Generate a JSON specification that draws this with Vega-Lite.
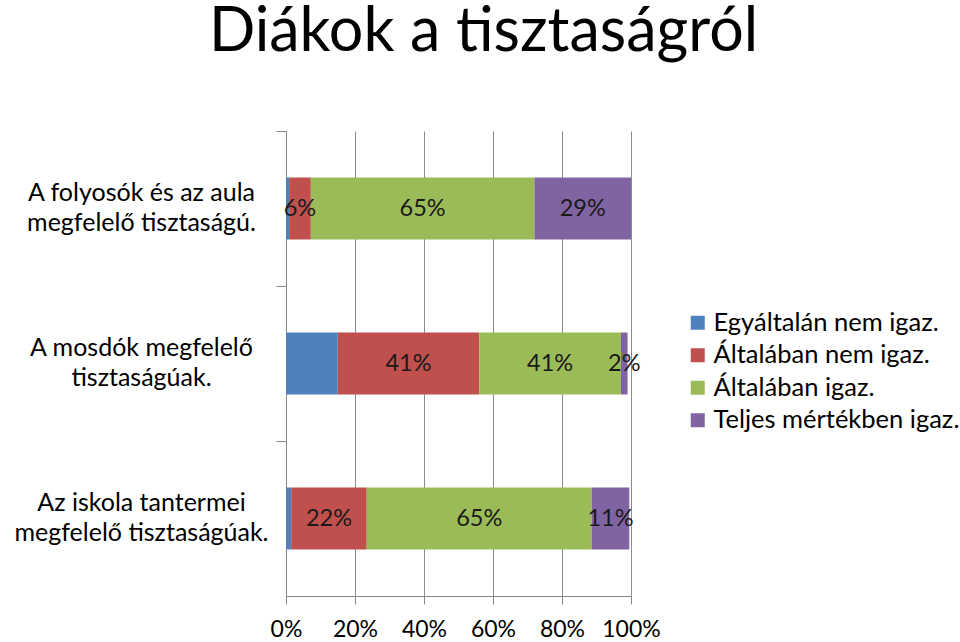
{
  "$schema": "https://vega.github.io/schema/vega-lite/v6.json",
  "autosize": {"type": "none"},
  "width": 345,
  "height": 465,
  "padding": {"left": 286, "top": 131, "right": 329, "bottom": 46},
  "background": "white",
  "config": {
    "font": "Lato",
    "view": {"stroke": null}
  },
  "title": {
    "text": "Diákok a tisztaságról",
    "fontSize": 61,
    "fontWeight": "normal",
    "font": "Lato",
    "color": "#000000",
    "anchor": "middle",
    "frame": "group",
    "dx": 25,
    "baseline": "alphabetic",
    "offset": 19
  },
  "data": {
    "values": [
      {"q": "A folyosók és az aula\nmegfelelő tisztaságú.", "k": 1, "c": "Egyáltalán nem igaz.", "v": 0.9, "label": ""},
      {"q": "A folyosók és az aula\nmegfelelő tisztaságú.", "k": 2, "c": "Általában nem igaz.", "v": 6.3, "label": "6%"},
      {"q": "A folyosók és az aula\nmegfelelő tisztaságú.", "k": 3, "c": "Általában igaz.", "v": 64.8, "label": "65%"},
      {"q": "A folyosók és az aula\nmegfelelő tisztaságú.", "k": 4, "c": "Teljes mértékben igaz.", "v": 28.0, "label": "29%"},
      {"q": "A mosdók megfelelő\ntisztaságúak.", "k": 1, "c": "Egyáltalán nem igaz.", "v": 15.0, "label": ""},
      {"q": "A mosdók megfelelő\ntisztaságúak.", "k": 2, "c": "Általában nem igaz.", "v": 41.0, "label": "41%"},
      {"q": "A mosdók megfelelő\ntisztaságúak.", "k": 3, "c": "Általában igaz.", "v": 41.1, "label": "41%"},
      {"q": "A mosdók megfelelő\ntisztaságúak.", "k": 4, "c": "Teljes mértékben igaz.", "v": 1.9, "label": "2%"},
      {"q": "Az iskola tantermei\nmegfelelő tisztaságúak.", "k": 1, "c": "Egyáltalán nem igaz.", "v": 1.5, "label": ""},
      {"q": "Az iskola tantermei\nmegfelelő tisztaságúak.", "k": 2, "c": "Általában nem igaz.", "v": 21.9, "label": "22%"},
      {"q": "Az iskola tantermei\nmegfelelő tisztaságúak.", "k": 3, "c": "Általában igaz.", "v": 65.2, "label": "65%"},
      {"q": "Az iskola tantermei\nmegfelelő tisztaságúak.", "k": 4, "c": "Teljes mértékben igaz.", "v": 10.9, "label": "11%"}
    ]
  },
  "transform": [
    {"stack": "v", "groupby": ["q"], "sort": [{"field": "k", "order": "ascending"}], "as": ["v0", "v1"]}
  ],
  "encoding": {
    "y": {
      "field": "q",
      "type": "nominal",
      "sort": null,
      "title": null,
      "scale": {"paddingInner": 0.6, "paddingOuter": 0.3},
      "axis": {
        "labelExpr": "split(datum.label, '\\n')",
        "labelFontSize": 25,
        "labelColor": "#000000",
        "labelLineHeight": 30,
        "labelAlign": "center",
        "labelBaseline": "middle",
        "labelOffset": 61.5,
        "labelPadding": 135,
        "labelLimit": 400,
        "tickBand": "center",
        "tickOffset": -77.5,
        "tickSize": 10,
        "tickColor": "#888888",
        "domainColor": "#888888",
        "grid": false
      }
    }
  },
  "layer": [
    {
      "mark": {"type": "bar"},
      "encoding": {
        "x": {
          "field": "v0",
          "type": "quantitative",
          "title": null,
          "scale": {"domain": [0, 100], "nice": false},
          "axis": {
            "values": [0, 20, 40, 60, 80, 100],
            "labelExpr": "datum.value + '%'",
            "labelFontSize": 23,
            "labelColor": "#000000",
            "labelPadding": 14,
            "tickSize": 8,
            "tickColor": "#888888",
            "domainColor": "#888888",
            "grid": true,
            "gridColor": "#8c8c8c",
            "labelFlush": false
          }
        },
        "x2": {"field": "v1"},
        "color": {
          "field": "c",
          "type": "nominal",
          "sort": ["Egyáltalán nem igaz.", "Általában nem igaz.", "Általában igaz.", "Teljes mértékben igaz."],
          "scale": {
            "domain": ["Egyáltalán nem igaz.", "Általában nem igaz.", "Általában igaz.", "Teljes mértékben igaz."],
            "range": ["#4F81BD", "#C0504D", "#9BBB59", "#8064A2"]
          },
          "legend": {
            "title": null,
            "orient": "none",
            "legendX": 399,
            "legendY": 179,
            "symbolType": "square",
            "symbolSize": 196,
            "symbolStrokeWidth": 0,
            "labelFontSize": 25.5,
            "labelColor": "#000000",
            "labelOffset": 3,
            "rowPadding": 5.5,
            "labelLimit": 400
          }
        }
      }
    },
    {
      "transform": [
        {"fold": ["v0", "v1"], "as": ["edge", "pos"]},
        {"aggregate": [{"op": "mean", "field": "pos", "as": "mid"}], "groupby": ["q", "c", "label"]}
      ],
      "mark": {"type": "text", "fontSize": 23.5, "color": "#1a1a1a"},
      "encoding": {
        "x": {"field": "mid", "type": "quantitative"},
        "text": {"field": "label"}
      }
    }
  ]
}
